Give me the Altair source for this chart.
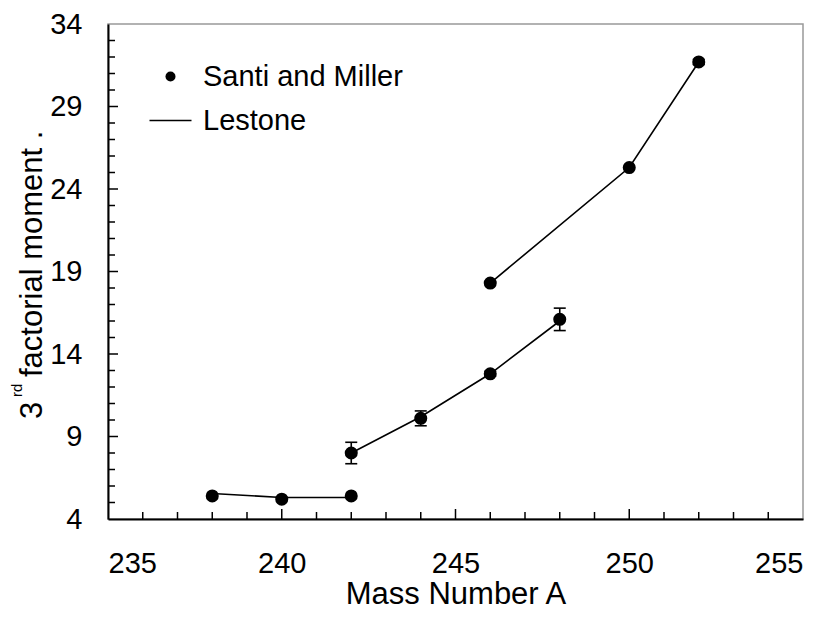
import altair as alt
import pandas as pd

# ---- data ----
mass_sm = [238, 240, 242, 242, 244, 246, 248, 246, 250, 252]
moment_sm = [5.4, 5.2, 5.4, 8.0, 10.1, 12.8, 16.1, 18.3, 25.3, 31.7]
err_sm = [0.0, 0.0, 0.0, 0.65, 0.45, 0.15, 0.68, 0.0, 0.0, 0.15]

mass_le = [238, 240, 242, 242, 244, 246, 248, 246, 250, 252]
moment_le = [5.55, 5.3, 5.3, 8.0, 10.2, 12.8, 16.0, 18.3, 25.3, 31.7]
group_le = [1, 1, 1, 2, 2, 2, 2, 3, 3, 3]

x_tick_labels = [235, 240, 245, 250, 255]
y_tick_labels = [4, 9, 14, 19, 24, 29, 34]
x_minor = [v for v in range(236, 255) if v % 5 != 0]
x_major = [240, 245, 250]
y_minor = [v for v in range(5, 34) if (v - 4) % 5 != 0]
y_major = [9, 14, 19, 24, 29]

series_names = ["Santi and Miller", "Lestone"]

W, H = 695, 495
TOP = 16
FONT = "Liberation Sans"

sm = pd.DataFrame({"A": mass_sm, "m": moment_sm, "err": err_sm,
                   "series": series_names[0]})
sm["lo"] = sm["m"] - sm["err"]
sm["hi"] = sm["m"] + sm["err"]
sm_err = sm[sm["err"] > 0]

le = pd.DataFrame({"A": mass_le, "m": moment_le, "g": group_le})

xscale = alt.Scale(domain=[235, 255], nice=False, zero=False)
yscale = alt.Scale(domain=[4, 34], nice=False, zero=False)

xaxis = alt.Axis(values=x_tick_labels, title="Mass Number  A", ticks=False, tickSize=0,
                 grid=False, labelFontSize=29, titleFontSize=31, labelPadding=30,
                 titlePadding=1, domainColor="black", domainWidth=2,
                 labelFont=FONT, titleFont=FONT, titleFontWeight="normal",
                 labelColor="black", titleColor="black")
yaxis = alt.Axis(values=y_tick_labels, title=None, ticks=False, tickSize=0,
                 grid=False, labelFontSize=29, labelPadding=26,
                 domainColor="black", domainWidth=2, labelFont=FONT,
                 labelColor="black")

base_x = alt.X("A:Q", scale=xscale, axis=xaxis)
base_y = alt.Y("m:Q", scale=yscale, axis=yaxis)

lines = alt.Chart(le).mark_line(color="black", strokeWidth=1.6).encode(
    x=base_x, y=base_y, detail="g:N", order="A:Q")

err_rule = alt.Chart(sm_err).mark_rule(color="black", strokeWidth=1.6).encode(
    x=alt.X("A:Q", scale=xscale), y=alt.Y("lo:Q", scale=yscale), y2="hi:Q")
cap_hi = alt.Chart(sm_err).mark_tick(color="black", orient="horizontal", size=12,
                                     thickness=1.6, opacity=1).encode(
    x=alt.X("A:Q", scale=xscale), y=alt.Y("hi:Q", scale=yscale))
cap_lo = alt.Chart(sm_err).mark_tick(color="black", orient="horizontal", size=12,
                                     thickness=1.6, opacity=1).encode(
    x=alt.X("A:Q", scale=xscale), y=alt.Y("lo:Q", scale=yscale))

points = alt.Chart(sm).mark_point(filled=True, color="black", opacity=1, size=170).encode(
    x=base_x, y=base_y,
    shape=alt.Shape("series:N",
                    scale=alt.Scale(domain=series_names,
                                    range=["circle", "M-4.2,-0.15H4.2V0.15H-4.2Z"]),
                    legend=alt.Legend(title=None, orient="none", legendX=48, legendY=38,
                                      labelFontSize=29, labelFont=FONT, labelColor="black",
                                      labelLimit=0,
                                      symbolSize=100, symbolFillColor="black",
                                      symbolStrokeWidth=0,
                                      labelOffset=18, rowPadding=14, padding=0,
                                      symbolOpacity=1)))

# inward ticks
xt_minor = alt.Chart(pd.DataFrame({"v": x_minor})).mark_rule(color="black", strokeWidth=1.5).encode(
    x=alt.X("v:Q", scale=xscale), y=alt.value(H), y2=alt.value(H - 7))
xt_major = alt.Chart(pd.DataFrame({"v": x_major})).mark_rule(color="black", strokeWidth=1.5).encode(
    x=alt.X("v:Q", scale=xscale), y=alt.value(H), y2=alt.value(H - 10))
yt_minor = alt.Chart(pd.DataFrame({"v": y_minor})).mark_rule(color="black", strokeWidth=1.5).encode(
    y=alt.Y("v:Q", scale=yscale), x=alt.value(0), x2=alt.value(7))
yt_major = alt.Chart(pd.DataFrame({"v": y_major})).mark_rule(color="black", strokeWidth=1.5).encode(
    y=alt.Y("v:Q", scale=yscale), x=alt.value(0), x2=alt.value(10))

# y title with superscript
yt_parts = ["3", "rd", "factorial moment  ."]
t1 = alt.Chart(pd.DataFrame({"t": [yt_parts[0]]})).mark_text(
    angle=270, align="left", baseline="alphabetic", fontSize=31, font=FONT, color="black").encode(
    text="t:N", x=alt.value(-66), y=alt.value(395))
t2 = alt.Chart(pd.DataFrame({"t": [yt_parts[1]]})).mark_text(
    angle=270, align="left", baseline="alphabetic", fontSize=15, font=FONT, color="black").encode(
    text="t:N", x=alt.value(-86), y=alt.value(373))
t3 = alt.Chart(pd.DataFrame({"t": [yt_parts[2]]})).mark_text(
    angle=270, align="left", baseline="alphabetic", fontSize=31, font=FONT, color="black").encode(
    text="t:N", x=alt.value(-66), y=alt.value(353))

chart = alt.layer(
    lines, err_rule, cap_hi, cap_lo, points,
    xt_minor, xt_major, yt_minor, yt_major, t1, t2, t3
).properties(
    width=W, height=H,
    autosize=alt.AutoSizeParams(type="none"),
    padding={"left": 100, "top": TOP, "right": 24, "bottom": 100},
    background="white",
).configure_view(stroke="#999999", strokeWidth=1.5)

chart.save("out.html", embed_options={"renderer": "svg", "actions": False})
